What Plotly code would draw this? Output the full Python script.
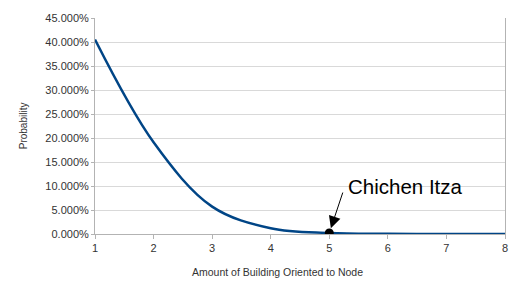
import plotly.graph_objects as go

x_vals = [1, 2, 3, 4, 5, 6, 7, 8]
prob = [0.405, 0.191, 0.057, 0.012, 0.002, 0.0004, 0.00005, 0.000005]
y_ticks = [0, 0.05, 0.10, 0.15, 0.20, 0.25, 0.30, 0.35, 0.40, 0.45]
marker_x = [5]
marker_y = [0.002]
label = "Chichen Itza"

fig = go.Figure()
fig.add_trace(go.Scatter(x=x_vals, y=prob, mode="lines",
                         line=dict(color="#004586", width=2.5, shape="spline", smoothing=1.0),
                         hoverinfo="skip", showlegend=False))
fig.add_trace(go.Scatter(x=marker_x, y=marker_y, mode="markers",
                         marker=dict(color="black", size=9), showlegend=False))

fig.add_annotation(x=marker_x[0], y=marker_y[0], ax=14, ay=-42, axref="pixel", ayref="pixel",
                   text="", showarrow=True, arrowhead=2, arrowsize=2.4, arrowwidth=1,
                   arrowcolor="black", standoff=5)
fig.add_annotation(x=5.29, y=0.10, xref="x", yref="y", text=label, showarrow=False,
                   xanchor="left", yanchor="middle",
                   font=dict(size=20.5, color="black", family="Liberation Sans, Arial, sans-serif"))

fig.add_annotation(x=0.445, y=-0.14, xref="paper", yref="paper", text="Amount of Building Oriented to Node",
                   showarrow=False, xanchor="center", yanchor="top",
                   font=dict(size=10.5, color="#333333", family="Liberation Sans, Arial, sans-serif"))
fig.add_annotation(x=-0.175, y=0.5, xref="paper", yref="paper", text="Probability", textangle=-90,
                   showarrow=False, xanchor="center", yanchor="middle",
                   font=dict(size=10, color="#333333", family="Liberation Sans, Arial, sans-serif"))

fig.update_xaxes(range=[1, 8], tickvals=x_vals, ticktext=[str(v) for v in x_vals],
                 showgrid=False, zeroline=False, showline=True, linecolor="#b3b3b3", linewidth=1,
                 ticks="outside", ticklen=4, tickcolor="#b3b3b3",
                 tickfont=dict(size=11, color="#333333", family="Liberation Sans, Arial, sans-serif"))
fig.update_yaxes(range=[0, 0.45], tickvals=y_ticks, tickformat=".3%",
                 showgrid=True, gridcolor="#d9d9d9", gridwidth=1, zeroline=False,
                 showline=True, linecolor="#b3b3b3", linewidth=1, mirror=True,
                 ticks="outside", ticklen=3, tickcolor="#b3b3b3",
                 tickfont=dict(size=11, color="#333333", family="Liberation Sans, Arial, sans-serif"))

fig.update_layout(width=520, height=293, margin=dict(l=95, r=13, t=13, b=59),
                  plot_bgcolor="white", paper_bgcolor="white")
fig.write_html("out.html")
